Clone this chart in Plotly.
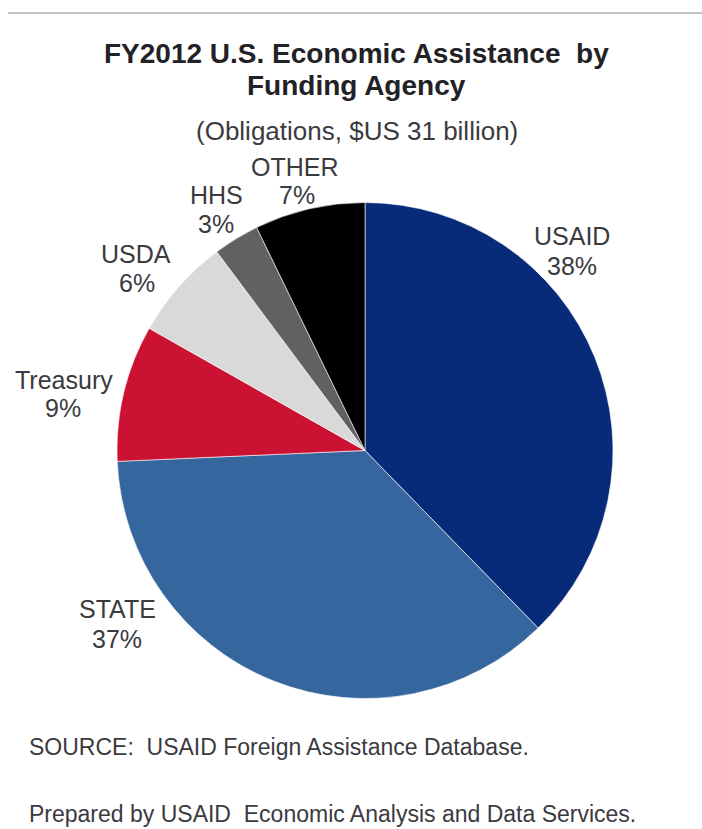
import plotly.graph_objects as go

agencies = ["USAID", "STATE", "Treasury", "USDA", "HHS", "OTHER"]
shares = [37.7, 36.6, 8.9, 6.6, 3.0, 7.2]          # slice sizes
pct_labels = [38, 37, 9, 6, 3, 7]                   # percentages printed on the chart
colors = ["#072B78", "#35679E", "#CB1233", "#D9D9D9", "#616161", "#000000"]

# label positions in pixels (name line, percent line)
name_px = [(572, 236), (117, 609), (64, 380), (136, 254), (216, 195), (295, 167)]
pct_px = [(572, 266), (117, 639), (63, 408), (137, 283), (216, 224), (297, 195)]

W, H = 702, 829
fig = go.Figure()
fig.add_trace(go.Pie(
    labels=agencies, values=shares, sort=False, direction="clockwise", rotation=0,
    marker=dict(colors=colors, line=dict(color="white", width=0.6)),
    textinfo="none", hoverinfo="label+percent", showlegend=False,
    domain=dict(x=[117 / W, 613 / W], y=[1 - 699 / H, 1 - 202 / H]),
))

font = "Liberation Sans, Arial, sans-serif"
tcol = "#3a3a3f"


def ann(text, px, py, size, xanchor="center", bold=False, color=tcol):
    fig.add_annotation(x=px / W, y=1 - py / H, xref="paper", yref="paper",
                       text=f"<b>{text}</b>" if bold else text, showarrow=False,
                       font=dict(family=font, size=size, color=color),
                       xanchor=xanchor, yanchor="middle", align="center")


for name, pct, (nx, ny), (qx, qy) in zip(agencies, pct_labels, name_px, pct_px):
    ann(name, nx, ny, 25)
    ann(f"{pct}%", qx, qy, 25)

ann("FY2012 U.S. Economic Assistance  by", 356, 53, 28, bold=True, color="#222226")
ann("Funding Agency", 356, 86, 28, bold=True, color="#222226")
ann("(Obligations, $US 31 billion)", 357, 131, 26)
ann("SOURCE:  USAID Foreign Assistance Database.", 27, 747, 23, xanchor="left")
ann("Prepared by USAID  Economic Analysis and Data Services.", 27, 814, 23, xanchor="left")

fig.add_shape(type="line", xref="paper", yref="paper", x0=8 / W, x1=1, y0=1 - 13 / H, y1=1 - 13 / H,
              line=dict(color="#C4C4C4", width=2))

fig.update_layout(width=W, height=H, margin=dict(l=0, r=0, t=0, b=0),
                  paper_bgcolor="white", plot_bgcolor="white")
fig.write_html("out.html", config={"displayModeBar": False},
               post_script="document.body.style.margin='0';document.body.style.overflow='hidden';")
